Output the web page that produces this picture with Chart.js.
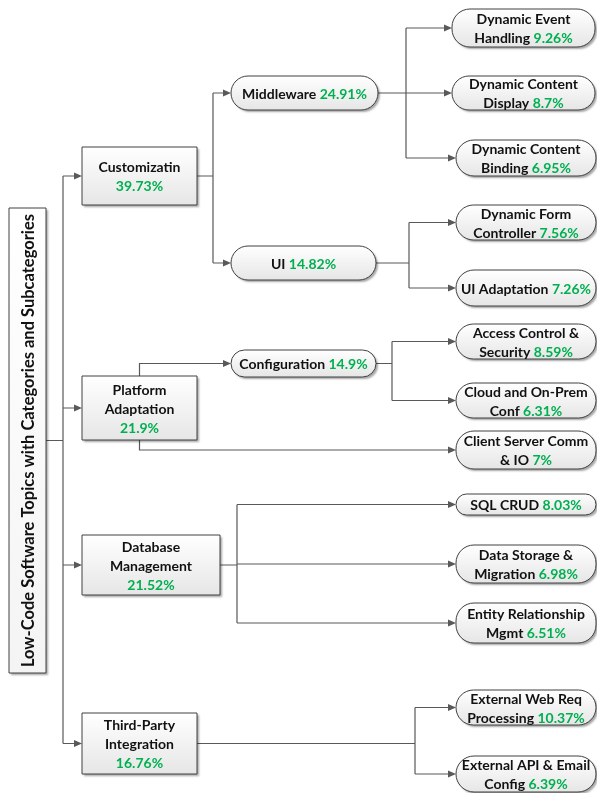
<!DOCTYPE html>
<html>
<head>
<meta charset="utf-8">
<script src="https://cdn.jsdelivr.net/npm/chart.js"></script>
<style>
  body { margin: 0; background: #fff; }
  #wrap { width: 597px; height: 793px; }
</style>
</head>
<body>
<div id="wrap"><canvas id="tree" width="597" height="793"></canvas></div>
<script>
// topic tree: names (line breaks as in the figure), share of posts, parent index
const nodeLines = [
  ['Low-Code Software Topics with Categories and Subcategories'],
  ['Customizatin'],
  ['Middleware'],
  ['Dynamic Event', 'Handling'],
  ['Dynamic Content', 'Display'],
  ['Dynamic Content', 'Binding'],
  ['UI'],
  ['Dynamic Form', 'Controller'],
  ['UI Adaptation'],
  ['Platform', 'Adaptation'],
  ['Configuration'],
  ['Access Control &', 'Security'],
  ['Cloud and On-Prem', 'Conf'],
  ['Client Server Comm', '& IO'],
  ['Database', 'Management'],
  ['SQL CRUD'],
  ['Data Storage &', 'Migration'],
  ['Entity Relationship', 'Mgmt'],
  ['Third-Party', 'Integration'],
  ['External Web Req', 'Processing'],
  ['External API & Email', 'Config']
];
const nodeShares = [null, 39.73, 24.91, 9.26, 8.7, 6.95, 14.82, 7.56, 7.26,
  21.9, 14.9, 8.59, 6.31, 7, 21.52, 8.03, 6.98, 6.51, 16.76, 10.37, 6.39];
const nodeParents = [-1, 0, 1, 2, 2, 2, 1, 6, 6, 0, 9, 10, 10, 9, 0, 14, 14, 14, 0, 18, 18];

// layout of the drawing (diagram units = pixels of the 597x793 figure)
// box: [left, right, top, bottom]
const boxes = [
  [9, 46, 208, 673],
  [82, 197, 147, 205],
  [231, 378, 76, 110],
  [452, 595, 9, 47],
  [452, 595, 76, 110],
  [456, 596, 140, 176],
  [231, 376, 246, 280],
  [456, 596, 205, 240],
  [456, 596, 270, 306],
  [82, 197, 376, 440],
  [231, 376, 350, 377],
  [456, 596, 324, 359],
  [456, 596, 383, 418],
  [456, 596, 431, 469],
  [82, 220, 535, 595],
  [456, 596, 494, 515],
  [456, 596, 545, 583],
  [456, 596, 603, 643],
  [82, 197, 713, 774],
  [456, 596, 690, 725],
  [456, 596, 756, 792]
];
// x of the vertical connector leaving each parent ('tb' = leaves from top/bottom)
const elbows = {0: 63, 1: 213, 2: 406, 6: 409, 9: 'tb', 10: 392, 14: 237, 18: 415};

const GREEN = '#00b050';
const LINE = '#595959';
const FONT = 'bold 14px Lato, "Open Sans", sans-serif';

function depth(i) {
  let d = 0;
  while (nodeParents[i] >= 0) { i = nodeParents[i]; d++; }
  return d;
}

const centers = boxes.map(b => ({x: (b[0] + b[1]) / 2, y: (b[2] + b[3]) / 2}));

function shapePath(ctx, x0, y0, x1, y1, pill) {
  ctx.beginPath();
  if (pill) {
    const r = Math.min((y1 - y0) / 2, 18);
    ctx.roundRect(x0, y0, x1 - x0, y1 - y0, r);
  } else {
    ctx.rect(x0, y0, x1 - x0, y1 - y0);
  }
}

function arrow(ctx, x, y) {
  ctx.beginPath();
  ctx.moveTo(x, y);
  ctx.lineTo(x - 8, y - 3.5);
  ctx.lineTo(x - 8, y + 3.5);
  ctx.closePath();
  ctx.fill();
}

const treePlugin = {
  id: 'tree',
  beforeDatasetsDraw(chart) {
    const {ctx, scales: {x, y}} = chart;
    const px = v => x.getPixelForValue(v), py = v => y.getPixelForValue(v);
    ctx.save();
    ctx.strokeStyle = LINE;
    ctx.fillStyle = LINE;
    ctx.lineWidth = 1.2;
    Object.keys(elbows).forEach(k => {
      const p = +k;
      const kids = nodeParents.map((q, i) => q === p ? i : -1).filter(i => i >= 0);
      const b = boxes[p];
      if (elbows[p] === 'tb') {
        const ex = centers[p].x;
        kids.forEach(c => {
          const cy = centers[c].y;
          const fromY = cy < centers[p].y ? b[2] : b[3];
          ctx.beginPath();
          ctx.moveTo(px(ex), py(fromY));
          ctx.lineTo(px(ex), py(cy));
          ctx.lineTo(px(boxes[c][0]) - 6, py(cy));
          ctx.stroke();
          arrow(ctx, px(boxes[c][0]), py(cy));
        });
        return;
      }
      const ex = elbows[p];
      const ys = kids.map(c => centers[c].y).concat([centers[p].y]);
      ctx.beginPath();
      ctx.moveTo(px(b[1]), py(centers[p].y));
      ctx.lineTo(px(ex), py(centers[p].y));
      ctx.moveTo(px(ex), py(Math.min(...ys)));
      ctx.lineTo(px(ex), py(Math.max(...ys)));
      kids.forEach(c => {
        ctx.moveTo(px(ex), py(centers[c].y));
        ctx.lineTo(px(boxes[c][0]) - 6, py(centers[c].y));
      });
      ctx.stroke();
      kids.forEach(c => arrow(ctx, px(boxes[c][0]), py(centers[c].y)));
    });
    ctx.restore();
  },
  afterDatasetsDraw(chart) {
    const {ctx, scales: {x, y}} = chart;
    const px = v => x.getPixelForValue(v), py = v => y.getPixelForValue(v);
    boxes.forEach((b, i) => {
      const d = depth(i);
      const pill = d >= 2;
      const x0 = px(b[0]), x1 = px(b[1]), y0 = py(b[2]), y1 = py(b[3]);
      ctx.save();
      ctx.shadowColor = 'rgba(0,0,0,0.35)';
      ctx.shadowOffsetX = 2;
      ctx.shadowOffsetY = 2;
      ctx.shadowBlur = 2;
      const g = ctx.createLinearGradient(0, y0, 0, y1);
      g.addColorStop(0, '#ffffff');
      g.addColorStop(1, d === 0 ? '#f4f4f4' : '#e6e6e6');
      ctx.fillStyle = g;
      shapePath(ctx, x0, y0, x1, y1, pill);
      ctx.fill();
      ctx.restore();
      ctx.save();
      ctx.strokeStyle = '#404040';
      ctx.lineWidth = 1;
      shapePath(ctx, x0, y0, x1, y1, pill);
      ctx.stroke();

      ctx.font = FONT;
      ctx.textBaseline = 'middle';
      ctx.textAlign = 'left';
      const cx = (x0 + x1) / 2, cy = (y0 + y1) / 2;
      if (d === 0) {
        ctx.translate(cx, cy);
        ctx.rotate(-Math.PI / 2);
        ctx.font = 'bold 16.5px Lato, "Open Sans", sans-serif';
        ctx.fillStyle = '#111';
        ctx.textAlign = 'center';
        ctx.fillText(nodeLines[i][0], 0, 1);
        ctx.restore();
        return;
      }
      const pct = nodeShares[i] + '%';
      const rows = nodeLines[i].map(t => [t, '']);
      if (d === 1) rows.push(['', pct]);
      else rows[rows.length - 1][1] = ' ' + pct;
      const lh = 19;
      rows.forEach((r, k) => {
        const ly = cy + (k - (rows.length - 1) / 2) * lh + 1;
        const w1 = ctx.measureText(r[0]).width, w2 = ctx.measureText(r[1]).width;
        let lx = cx - (w1 + w2) / 2;
        ctx.fillStyle = '#111';
        ctx.fillText(r[0], lx, ly);
        ctx.fillStyle = GREEN;
        ctx.fillText(r[1], lx + w1, ly);
      });
      ctx.restore();
    });
  }
};

new Chart(document.getElementById('tree'), {
  type: 'scatter',
  data: {
    datasets: [{
      data: centers,
      pointRadius: 0,
      pointHoverRadius: 0
    }]
  },
  options: {
    responsive: false,
    animation: false,
    layout: { padding: 0 },
    plugins: { legend: { display: false }, tooltip: { enabled: false } },
    scales: {
      x: { type: 'linear', min: 0, max: 597, display: false },
      y: { type: 'linear', min: 0, max: 793, reverse: true, display: false }
    }
  },
  plugins: [treePlugin]
});
</script>
</body>
</html>
